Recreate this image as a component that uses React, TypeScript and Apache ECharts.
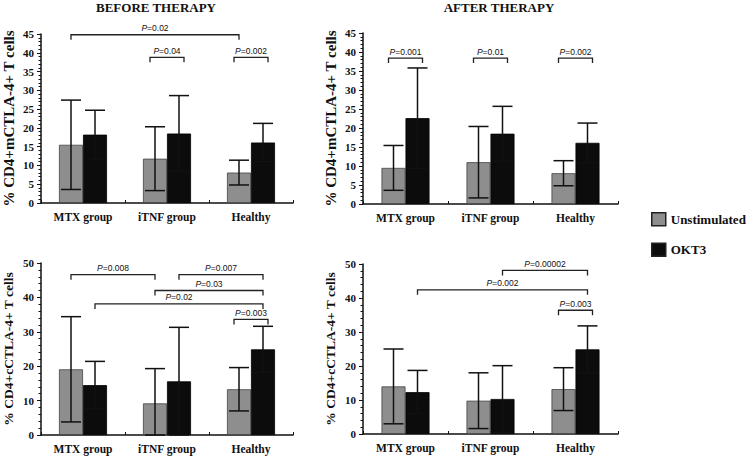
import React, { useEffect, useRef } from "react";
import * as echarts from "echarts";

const categories = ["MTX group", "iTNF group", "Healthy"];
const seriesNames = ["Unstimulated", "OKT3"];
const panelTitles = ["BEFORE THERAPY", "AFTER THERAPY"];
const yNames = ["% CD4+mCTLA-4+ T cells", "% CD4+cCTLA-4+ T cells"];

// Top-left: before therapy, mCTLA-4
const tlUnstimMean = [15.5, 11.8, 8.1];
const tlUnstimSd = [11.9, 8.5, 3.3];
const tlOktMean = [18.2, 18.5, 16.1];
const tlOktSd = [6.5, 10.1, 5.1];
// Top-right: after therapy, mCTLA-4
const trUnstimMean = [9.5, 11.0, 8.1];
const trUnstimSd = [5.9, 9.4, 3.3];
const trOktMean = [22.6, 18.5, 16.1];
const trOktSd = [13.2, 7.2, 5.2];
// Bottom-left: before therapy, cCTLA-4
const blUnstimMean = [19.1, 9.2, 13.3];
const blUnstimSd = [15.3, 10.1, 6.3];
const blOktMean = [14.5, 15.6, 24.9];
const blOktSd = [6.9, 15.7, 6.7];
// Bottom-right: after therapy, cCTLA-4
const brUnstimMean = [14.0, 9.8, 13.2];
const brUnstimSd = [11.0, 8.2, 6.3];
const brOktMean = [12.3, 10.3, 24.9];
const brOktSd = [6.4, 9.8, 6.9];

// brackets: [fromCategory, fromBar(0 unstim / 1 OKT3), toCategory, toBar, yLevel]
const tlBrackets = [[0, 0, 2, 0, 44.8], [1, 0, 1, 1, 38.8], [2, 0, 2, 1, 38.8]];
const tlLabels = ["0.02", "0.04", "0.002"];
const trBrackets = [[0, 0, 0, 1, 38.4], [1, 0, 1, 1, 38.4], [2, 0, 2, 1, 38.4]];
const trLabels = ["0.001", "0.01", "0.002"];
const blBrackets = [[0, 0, 1, 0, 46.6], [1, 1, 2, 1, 46.6], [1, 0, 2, 1, 42.0], [0, 1, 2, 1, 38.1], [2, 0, 2, 1, 33.6]];
const blLabels = ["0.008", "0.007", "0.03", "0.02", "0.003"];
const brBrackets = [[1, 1, 2, 1, 48.1], [0, 1, 2, 1, 42.4], [2, 0, 2, 1, 36.4]];
const brLabels = ["0.00002", "0.002", "0.003"];

const GREY = "#8e8e8e";
const BLACK = "#0c0c0c";
const SERIF = "'Liberation Serif', 'Times New Roman', serif";
const SANS = "'Liberation Sans', Arial, sans-serif";

export default function App() {
  const ref = useRef<HTMLDivElement>(null);
  useEffect(() => {
    if (!ref.current) return;
    const chart = echarts.init(ref.current, undefined, { renderer: "svg" });

    const panels = [
      { grid: { left: 38, top: 34, width: 255, height: 169 }, max: 45, interval: 5, yName: yNames[0], nameSize: 15, nameGap: 25,
        um: tlUnstimMean, us: tlUnstimSd, om: tlOktMean, os: tlOktSd, br: tlBrackets, lb: tlLabels },
      { grid: { left: 363, top: 33, width: 255, height: 171 }, max: 45, interval: 5, yName: yNames[0], nameSize: 15, nameGap: 25,
        um: trUnstimMean, us: trUnstimSd, om: trOktMean, os: trOktSd, br: trBrackets, lb: trLabels },
      { grid: { left: 38, top: 263, width: 255, height: 172 }, max: 50, interval: 10, yName: yNames[1], nameSize: 13.5, nameGap: 26,
        um: blUnstimMean, us: blUnstimSd, om: blOktMean, os: blOktSd, br: blBrackets, lb: blLabels },
      { grid: { left: 363, top: 264, width: 255, height: 170 }, max: 50, interval: 10, yName: yNames[1], nameSize: 13.5, nameGap: 26,
        um: brUnstimMean, us: brUnstimSd, om: brOktMean, os: brOktSd, br: brBrackets, lb: brLabels },
    ];

    const grids: any[] = [];
    const xAxes: any[] = [];
    const yAxes: any[] = [];
    const series: any[] = [];

    const errorSeries = (i: number, means: number[], sds: number[], off: number) => ({
      type: "custom",
      xAxisIndex: i,
      yAxisIndex: i,
      z: 5,
      silent: true,
      data: means.map((m, k) => [k, m, sds[k]]),
      renderItem: (params: any, api: any) => {
        const c = api.value(0), m = api.value(1), s = api.value(2);
        const hi = api.coord([c, m + s]);
        const lo = api.coord([c, Math.max(m - s, 0)]);
        const x = hi[0] + off;
        const st = { stroke: "#111", lineWidth: 1.5 };
        return {
          type: "group",
          children: [
            { type: "line", shape: { x1: x, y1: hi[1], x2: x, y2: lo[1] }, style: st },
            { type: "line", shape: { x1: x - 10, y1: hi[1], x2: x + 10, y2: hi[1] }, style: st },
            { type: "line", shape: { x1: x - 10, y1: lo[1], x2: x + 10, y2: lo[1] }, style: st },
          ],
        };
      },
    });

    panels.forEach((p, i) => {
      grids.push({ ...p.grid, containLabel: false });
      xAxes.push({
        type: "category",
        gridIndex: i,
        data: categories,
        axisLine: { show: true, lineStyle: { color: "#111", width: 1.5 } },
        axisTick: { show: true, inside: true, length: 3, lineStyle: { color: "#111" } },
        axisLabel: { color: "#111", fontFamily: SERIF, fontWeight: "bold", fontSize: 11.5, margin: 8 },
        splitLine: { show: false },
      });
      yAxes.push({
        type: "value",
        gridIndex: i,
        min: 0,
        max: p.max,
        interval: p.interval,
        name: p.yName,
        nameLocation: "middle",
        nameRotate: 90,
        nameGap: p.nameGap,
        nameTextStyle: { color: "#111", fontFamily: SERIF, fontWeight: "bold", fontSize: p.nameSize },
        axisLine: { show: true, lineStyle: { color: "#111", width: 1.5 } },
        axisTick: { show: true, inside: false, length: 4, lineStyle: { color: "#111" } },
        minorTick: { show: true, splitNumber: 5, length: 2.5, lineStyle: { color: "#111" } },
        axisLabel: { color: "#111", fontFamily: SERIF, fontWeight: "bold", fontSize: 11, margin: 7 },
        splitLine: { show: false },
      });
      series.push({
        type: "bar",
        name: seriesNames[0],
        xAxisIndex: i,
        yAxisIndex: i,
        data: p.um,
        barWidth: 24,
        barGap: "0%",
        itemStyle: { color: GREY, borderColor: "#444", borderWidth: 0.8 },
      });
      series.push({
        type: "bar",
        name: seriesNames[1],
        xAxisIndex: i,
        yAxisIndex: i,
        data: p.om,
        barWidth: 24,
        barGap: "0%",
        itemStyle: { color: BLACK, borderColor: "#000", borderWidth: 0.8 },
      });
      series.push(errorSeries(i, p.um, p.us, -12));
      series.push(errorSeries(i, p.om, p.os, 12));
      const labels = p.lb;
      series.push({
        type: "custom",
        xAxisIndex: i,
        yAxisIndex: i,
        z: 6,
        silent: true,
        data: p.br,
        renderItem: (params: any, api: any) => {
          const c1 = api.value(0), b1 = api.value(1), c2 = api.value(2), b2 = api.value(3), y = api.value(4);
          const same = c1 === c2;
          const off = (b: number) => (same ? (b === 0 ? -17 : 17) : b === 0 ? -12 : 12);
          const p1 = api.coord([c1, y]);
          const p2 = api.coord([c2, y]);
          const x1 = p1[0] + off(b1);
          const x2 = p2[0] + off(b2);
          const yy = p1[1];
          const st = { stroke: "#222", lineWidth: 1.3, fill: null };
          return {
            type: "group",
            children: [
              { type: "polyline", shape: { points: [[x1, yy + 5], [x1, yy], [x2, yy], [x2, yy + 5]] }, style: st },
              {
                type: "text",
                x: (x1 + x2) / 2,
                y: yy - 2,
                style: {
                  text: "{i|P}=" + labels[params.dataIndex],
                  align: "center",
                  verticalAlign: "bottom",
                  textAlign: "center",
                  textVerticalAlign: "bottom",
                  fill: "#111",
                  fontFamily: SANS,
                  fontSize: 8.5,
                  rich: { i: { fontStyle: "italic", fontFamily: SANS, fontSize: 8.5, fill: "#111" } },
                },
              },
            ],
          };
        },
      });
    });

    chart.setOption({
      animation: false,
      backgroundColor: "#ffffff",
      title: [
        { text: panelTitles[0], left: 151, top: -4, textAlign: "center",
          textStyle: { fontFamily: SERIF, fontWeight: "bold", fontSize: 13, color: "#111" } },
        { text: panelTitles[1], left: 494, top: -4, textAlign: "center",
          textStyle: { fontFamily: SERIF, fontWeight: "bold", fontSize: 13, color: "#111" } },
      ],
      legend: {
        orient: "vertical",
        left: 646,
        top: 207,
        itemWidth: 14,
        itemHeight: 13,
        itemGap: 16,
        icon: "rect",
        data: seriesNames,
        textStyle: { fontFamily: SERIF, fontWeight: "bold", fontSize: 13, color: "#111" },
        itemStyle: { borderColor: "#222", borderWidth: 1.5 },
      },
      grid: grids,
      xAxis: xAxes,
      yAxis: yAxes,
      series,
    });
    return () => chart.dispose();
  }, []);
  return <div ref={ref} style={{ width: 746, height: 456, position: "absolute", left: 0, top: 0 }} />;
}
